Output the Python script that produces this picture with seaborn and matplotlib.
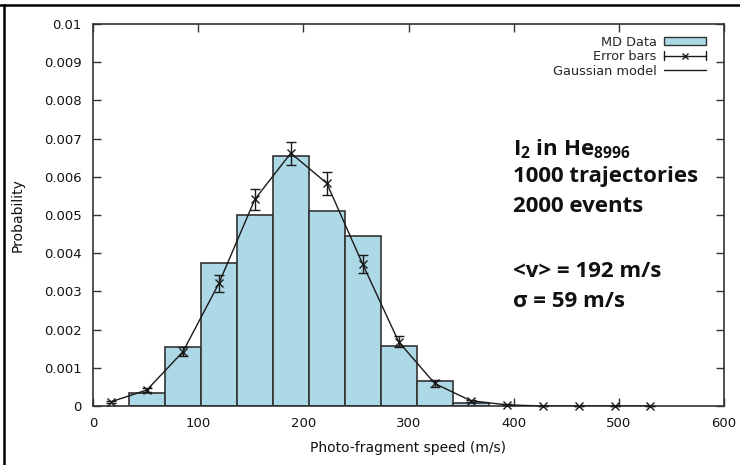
import matplotlib
matplotlib.use("Agg")
import matplotlib.pyplot as plt
from matplotlib.lines import Line2D
from matplotlib.patches import Rectangle
from matplotlib.legend_handler import HandlerBase
import seaborn as sns
import pandas as pd

# Histogram of simulated photo-fragment speeds (bin width 34.2 m/s)
hist_edges = [34.2, 68.4, 102.6, 136.8, 171.0, 205.2, 239.4, 273.6, 307.8, 342.0, 376.2]
hist_prob = [0.00035, 0.00154, 0.00374, 0.00500, 0.00654, 0.00510, 0.00446,
             0.00158, 0.00066, 0.00007]

# Model values at bin centres with their error bars
model_speed = [17.1, 51.3, 85.5, 119.7, 153.9, 188.1, 222.3, 256.5, 290.7,
               324.9, 359.1, 393.3, 427.5, 461.7, 495.9, 530.1]
model_prob = [0.00011, 0.00042, 0.00142, 0.00321, 0.00541, 0.00662, 0.00583,
              0.00371, 0.00168, 0.00059, 0.00014, 0.00003, 0.0, 0.0, 0.0, 0.0]
model_err = [0.00002, 0.00005, 0.00012, 0.00022, 0.00028, 0.00030, 0.00030,
             0.00024, 0.00014, 0.00008, 0.00003, 0.00001, 0.0, 0.0, 0.0, 0.0]

x_ticks = [0, 100, 200, 300, 400, 500, 600]
y_ticks = [0, 0.001, 0.002, 0.003, 0.004, 0.005, 0.006, 0.007, 0.008, 0.009, 0.01]
y_tick_labels = ["0", "0.001", "0.002", "0.003", "0.004", "0.005", "0.006",
                 "0.007", "0.008", "0.009", "0.01"]

sns.set_style("white")
plt.rcParams["font.family"] = ["DejaVu Sans"]

FRAME = "#333333"
BAR = "#add8e6"
INK = "#1a1a1a"

fig = plt.figure(figsize=(7.4, 4.65), dpi=100)
ax = fig.add_axes([93 / 740, 59 / 465, 631 / 740, 382 / 465])

centres = [(a + b) / 2 for a, b in zip(hist_edges[:-1], hist_edges[1:])]
hist_df = pd.DataFrame({"speed": centres, "prob": hist_prob})
sns.histplot(data=hist_df, x="speed", weights="prob", bins=hist_edges,
             color=BAR, edgecolor=FRAME, linewidth=1.2, alpha=1.0, ax=ax)

model_df = pd.DataFrame({"speed": model_speed, "prob": model_prob})
sns.lineplot(data=model_df, x="speed", y="prob", color=INK,
             linewidth=1.0, ax=ax, zorder=4)
ax.errorbar(model_speed, model_prob, yerr=model_err, fmt="x", color=INK,
            ecolor=INK, elinewidth=1.0, capsize=3.5, capthick=1.0,
            markersize=5.5, markeredgewidth=1.0, zorder=5, clip_on=False)

ax.set_xlim(0, 600)
ax.set_ylim(0, 0.01)
ax.set_xticks(x_ticks)
ax.set_xticklabels([str(t) for t in x_ticks])
ax.set_yticks(y_ticks)
ax.set_yticklabels(y_tick_labels)
ax.tick_params(axis="both", direction="in", length=6, width=1.0, color=FRAME,
               labelsize=9.5, labelcolor="#111111", top=True, right=True,
               bottom=True, left=True)
ax.tick_params(axis="y", pad=8)
ax.tick_params(axis="x", pad=8)
for sp in ax.spines.values():
    sp.set_color(FRAME)
    sp.set_linewidth(1.2)
    sp.set_visible(True)

ax.set_xlabel("Photo-fragment speed (m/s)", fontsize=10, color="#111111", labelpad=8)
ax.set_ylabel("Probability", fontsize=10, color="#111111", labelpad=14)


class ErrorBarKey(HandlerBase):
    def create_artists(self, legend, orig_handle, xdescent, ydescent,
                       width, height, fontsize, trans):
        y = height / 2 - ydescent
        x0, x1 = -xdescent, width - xdescent
        line = Line2D([x0, x1], [y, y], color=INK, lw=1.0, transform=trans)
        cap_l = Line2D([x0, x0], [y - 3, y + 3], color=INK, lw=1.0, transform=trans)
        cap_r = Line2D([x1, x1], [y - 3, y + 3], color=INK, lw=1.0, transform=trans)
        mark = Line2D([(x0 + x1) / 2], [y], marker="x", markersize=5, mew=1.0,
                      color=INK, linestyle="none", transform=trans)
        return [line, cap_l, cap_r, mark]


class BoxKey(HandlerBase):
    def create_artists(self, legend, orig_handle, xdescent, ydescent,
                       width, height, fontsize, trans):
        r = Rectangle((-xdescent, -ydescent + 1), width, height - 2,
                      facecolor=BAR, edgecolor=FRAME, lw=1.0, transform=trans)
        return [r]


h_md = Rectangle((0, 0), 1, 1)
h_err = Line2D([], [])
h_gauss = Line2D([], [], color=INK, lw=1.0)
leg = ax.legend([h_md, h_err, h_gauss], ["MD Data", "Error bars", "Gaussian model"],
                handler_map={h_md: BoxKey(), h_err: ErrorBarKey()},
                loc="upper right", bbox_to_anchor=(0.983, 0.99), frameon=False,
                markerfirst=False, fontsize=9.3, handlelength=3.2, handleheight=0.9,
                handletextpad=0.6, labelspacing=0.12, borderaxespad=0.2)
for t in leg.get_texts():
    t.set_ha("right")

# Simulation summary
info_font = dict(fontfamily="Open Sans", fontweight="bold", fontsize=16,
                 color="#111111")
lines = [
    (155, r"I$_\mathregular{2}$ in He$_\mathregular{8996}$"),
    (182, "1000 trajectories"),
    (212, "2000 events"),
    (277, "<v> = 192 m/s"),
    (307, "σ = 59 m/s"),
]
for ypix, txt in lines:
    fig.text(513 / 740, 1 - ypix / 465, txt, ha="left", va="baseline", **info_font)

# Page frame around the figure
fig.add_artist(Line2D([0, 1], [1 - 5 / 465, 1 - 5 / 465], color="black", lw=1.8,
                      transform=fig.transFigure))
fig.add_artist(Line2D([4 / 740, 4 / 740], [0, 1 - 5 / 465], color="black", lw=1.8,
                      transform=fig.transFigure))

fig.savefig("out.png", dpi=100)
